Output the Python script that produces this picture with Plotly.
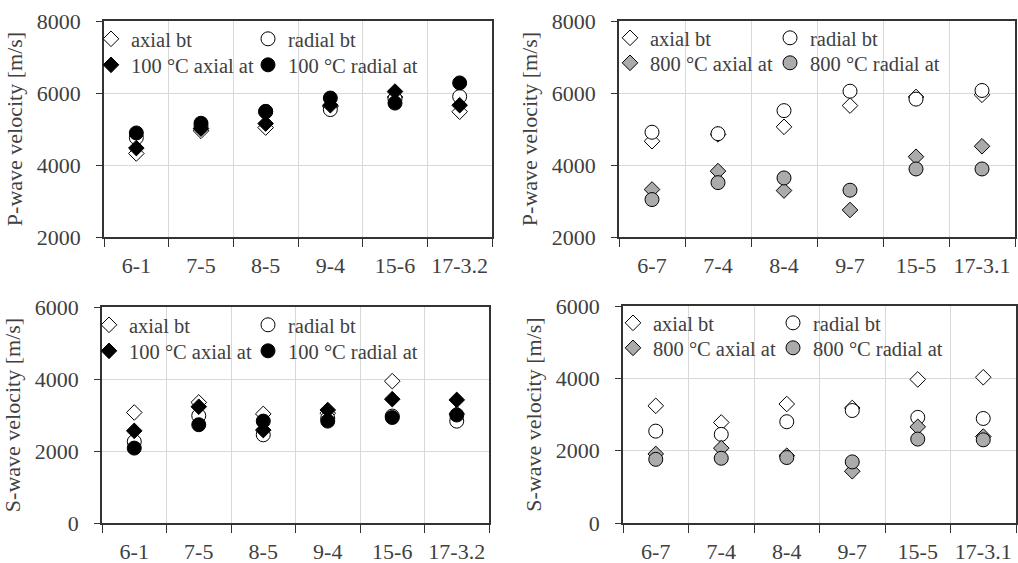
import plotly.graph_objects as go

# ---------------- data ----------------
cats_100 = ["6-1", "7-5", "8-5", "9-4", "15-6", "17-3.2"]
cats_800 = ["6-7", "7-4", "8-4", "9-7", "15-5", "17-3.1"]

p100_axial_bt = [4320, 4950, 5040, 5620, 5890, 5480]
p100_radial_bt = [4760, 5070, 5480, 5540, 5840, 5900]
p100_axial_at = [4470, 5010, 5150, 5660, 6040, 5660]
p100_radial_at = [4890, 5160, 5490, 5860, 5720, 6280]

p800_axial_bt = [4660, 4850, 5060, 5650, 5890, 5950]
p800_radial_bt = [4910, 4870, 5510, 6050, 5830, 6070]
p800_axial_at = [3320, 3830, 3290, 2750, 4230, 4520]
p800_radial_at = [3040, 3510, 3640, 3300, 3890, 3890]

s100_axial_bt = [3070, 3350, 3030, 3050, 3940, 3030]
s100_radial_bt = [2260, 2980, 2450, 2910, 2970, 2830]
s100_axial_at = [2560, 3230, 2580, 3140, 3440, 3420]
s100_radial_at = [2080, 2730, 2830, 2830, 2930, 3000]

s800_axial_bt = [3240, 2780, 3290, 3180, 3970, 4030]
s800_radial_bt = [2540, 2450, 2800, 3110, 2920, 2890]
s800_axial_at = [1910, 2070, 1860, 1430, 2660, 2390]
s800_radial_at = [1760, 1790, 1810, 1690, 2320, 2300]

names_100 = ["axial bt", "radial bt", "100 °C axial at", "100 °C radial at"]
names_800 = ["axial bt", "radial bt", "800 °C axial at", "800 °C radial at"]

# ---------------- styling ----------------
W, H = 1018, 563
FONT = "Liberation Serif, Times New Roman, serif"
TXT = "#404040"
GRAY = "#ababab"
TICK_SIZE = 22
LEG_SIZE = 20.5
TITLE_SIZE = 22

styles_100 = [
    dict(symbol="diamond", color="white"),
    dict(symbol="circle", color="white"),
    dict(symbol="diamond", color="black"),
    dict(symbol="circle", color="black"),
]
styles_800 = [
    dict(symbol="diamond", color="white"),
    dict(symbol="circle", color="white"),
    dict(symbol="diamond", color=GRAY),
    dict(symbol="circle", color=GRAY),
]

# panel geometry in pixels (left, right, top, bottom); legend text x (col1, col2), row centers
panels = [
    dict(x=(104, 492), y=(21, 237), cats=cats_100, series=[p100_axial_bt, p100_radial_bt, p100_axial_at, p100_radial_at],
         names=names_100, styles=styles_100, yr=[2000, 8000], title="P-wave velocity [m/s]",
         leg=dict(tx=(131, 288), ry=(39, 65))),
    dict(x=(619, 1015), y=(21, 237), cats=cats_800, series=[p800_axial_bt, p800_radial_bt, p800_axial_at, p800_radial_at],
         names=names_800, styles=styles_800, yr=[2000, 8000], title="P-wave velocity [m/s]",
         leg=dict(tx=(650, 810), ry=(38, 63))),
    dict(x=(102, 489), y=(307, 523), cats=cats_100, series=[s100_axial_bt, s100_radial_bt, s100_axial_at, s100_radial_at],
         names=names_100, styles=styles_100, yr=[0, 6000], title="S-wave velocity [m/s]",
         leg=dict(tx=(129, 288), ry=(325, 351))),
    dict(x=(623, 1016), y=(306, 523), cats=cats_800, series=[s800_axial_bt, s800_radial_bt, s800_axial_at, s800_radial_at],
         names=names_800, styles=styles_800, yr=[0, 6000], title="S-wave velocity [m/s]",
         leg=dict(tx=(653, 813), ry=(323, 348))),
]

fig = go.Figure()
layout = dict(
    width=W, height=H, margin=dict(l=0, r=0, t=0, b=0, autoexpand=False),
    paper_bgcolor="white", plot_bgcolor="white",
    font=dict(family=FONT, size=20, color=TXT),
    showlegend=True,
)

leg_idx = 0
for i, p in enumerate(panels):
    ax = "" if i == 0 else str(i + 1)
    xa, ya = "x" + ax, "y" + ax
    for k, (vals, name, st) in enumerate(zip(p["series"], p["names"], p["styles"])):
        leg_idx += 1
        lname = "legend" if leg_idx == 1 else "legend%d" % leg_idx
        tx = p["leg"]["tx"][k % 2]
        ty = p["leg"]["ry"][k // 2]
        layout[lname] = dict(
            x=(tx - 40) / W, y=1 - ty / H, xanchor="left", yanchor="middle",
            bgcolor="rgba(0,0,0,0)", borderwidth=0, itemwidth=30,
            font=dict(family=FONT, size=LEG_SIZE, color=TXT),
        )
        fig.add_trace(go.Scatter(
            x=p["cats"], y=vals, mode="markers", name=name,
            xaxis=xa, yaxis=ya, legend=lname,
            marker=dict(symbol=st["symbol"], color=st["color"],
                        size=12 if st["symbol"] == "diamond" else 14,
                        line=dict(color="black", width=1)),
        ))
    layout["xaxis" + ax] = dict(
        domain=[p["x"][0] / W, p["x"][1] / W], anchor=ya,
        type="category", categoryorder="array", categoryarray=p["cats"],
        range=[-0.5, 5.5], tickson="boundaries", ticks="outside", ticklen=8,
        tickcolor="#333", tickwidth=1.2, tickangle=0,
        showgrid=True, gridcolor="#d9d9d9", gridwidth=1,
        showline=True, linecolor="#333", linewidth=1.5, mirror=True,
        tickfont=dict(family=FONT, size=TICK_SIZE, color=TXT), zeroline=False,
        ticklabelstandoff=8,
    )
    layout["yaxis" + ax] = dict(
        domain=[1 - p["y"][1] / H, 1 - p["y"][0] / H], anchor=xa,
        range=p["yr"], dtick=2000, ticks="outside", ticklen=6,
        tickcolor="#333", tickwidth=1.2,
        showgrid=True, gridcolor="#d9d9d9", gridwidth=1,
        showline=True, linecolor="#333", linewidth=1.5, mirror=True,
        tickfont=dict(family=FONT, size=TICK_SIZE, color=TXT), zeroline=False,
        ticklabelstandoff=11,
        title=dict(text=p["title"], font=dict(family=FONT, size=TITLE_SIZE, color=TXT), standoff=8),
    )

fig.update_layout(**layout)
fig.write_html("out.html", post_script="document.body.style.margin='0';",
               config={"displayModeBar": False})
